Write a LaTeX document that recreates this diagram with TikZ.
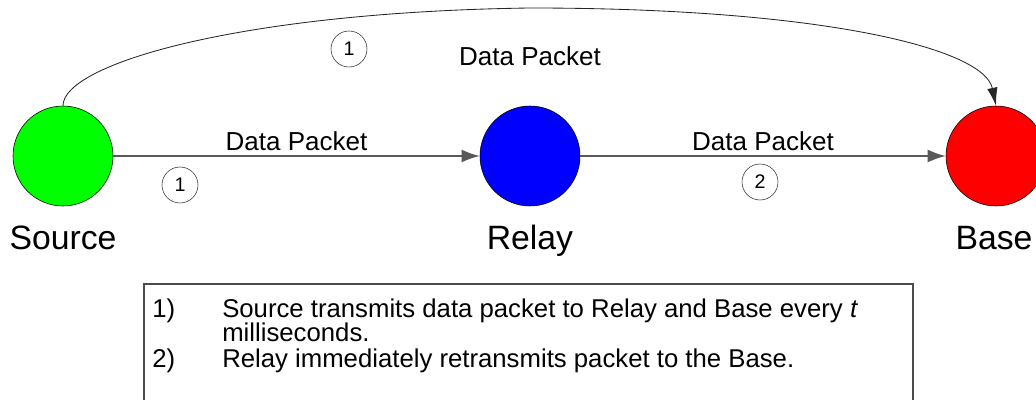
\documentclass[tikz,border=0pt]{standalone}
\usepackage{fontspec}
\setmainfont{Liberation Sans}
\usepackage{tikz}
\usetikzlibrary{arrows.meta,positioning}
\definecolor{srcgreen}{RGB}{0,255,0}
\definecolor{relayblue}{RGB}{0,0,255}
\definecolor{basered}{RGB}{255,0,0}

\begin{document}
\begin{tikzpicture}[
		station/.style={circle,draw=black,thin,minimum size=2.5cm,inner sep=0pt},
		link/.style={draw=black!65,line width=1pt,-{Latex[length=4.5mm,width=3.2mm]}},
		numbadge/.style={circle,draw=black!80,thin,minimum size=0.9cm,inner sep=0pt,font=\fontsize{14}{16}\selectfont},
		pktlabel/.style={font=\fontsize{18.5}{20}\selectfont},
		namelabel/.style={anchor=base,font=\fontsize{24}{28}\selectfont},
		legendline/.style={anchor=base west,inner sep=0pt,font=\fontsize{18.3}{20}\selectfont}]
		\clip (0,0) rectangle (25.9,-10);
		\node[station,fill=srcgreen] (src) at (1.575,-3.9) {};
		\node[station,fill=relayblue] (relay) at (13.25,-3.9) {};
		\node[station,fill=basered] (base) at (24.9,-3.9) {};
		\node[namelabel] (srcname) at (1.575,-6.25) {Source};
		\node[namelabel] (relayname) at (13.25,-6.25) {Relay};
		\node[namelabel] (basename) at (24.85,-6.25) {Base};
		% direct links
		\draw[link] (src) -- (relay) node[midway,above,pktlabel]{Data Packet};
		\draw[link] (relay) -- (base) node[midway,above,pktlabel]{Data Packet};
		% long hop over the relay
		\coordinate (apex) at (13.25,-0.2);
		\draw[black!85,line width=0.6pt,-{Latex[length=4.5mm,width=2.6mm]}] (src.north) .. controls (1.575,-1.6) and (6,-0.3) .. (apex) .. controls (20.5,-0.2) and (24.6,-1.2) .. (base.north);
		\node[pktlabel] (toplabel) at (13.25,-1.4) {Data Packet};
		\node[numbadge] (n1top) at (8.725,-1.225) {1};
		\node[numbadge] (n1low) at (4.5,-4.625) {1};
		\node[numbadge] (n2) at (19,-4.55) {2};
		% legend
		\draw[black!70,line width=0.8pt] (3.6,-7.1) rectangle (22.825,-10.5);
		\node[legendline] (num1) at (3.8,-7.925) {1)};
		\node[legendline] (txt1) at (5.55,-7.925) {Source transmits data packet to Relay and Base every \textit{t}};
		\node[legendline] (txt1b) at (5.55,-8.55) {milliseconds.};
		\node[legendline] (num2) at (3.8,-9.175) {2)};
		\node[legendline] (txt2) at (5.55,-9.175) {Relay immediately retransmits packet to the Base.};
\end{tikzpicture}
\end{document}
